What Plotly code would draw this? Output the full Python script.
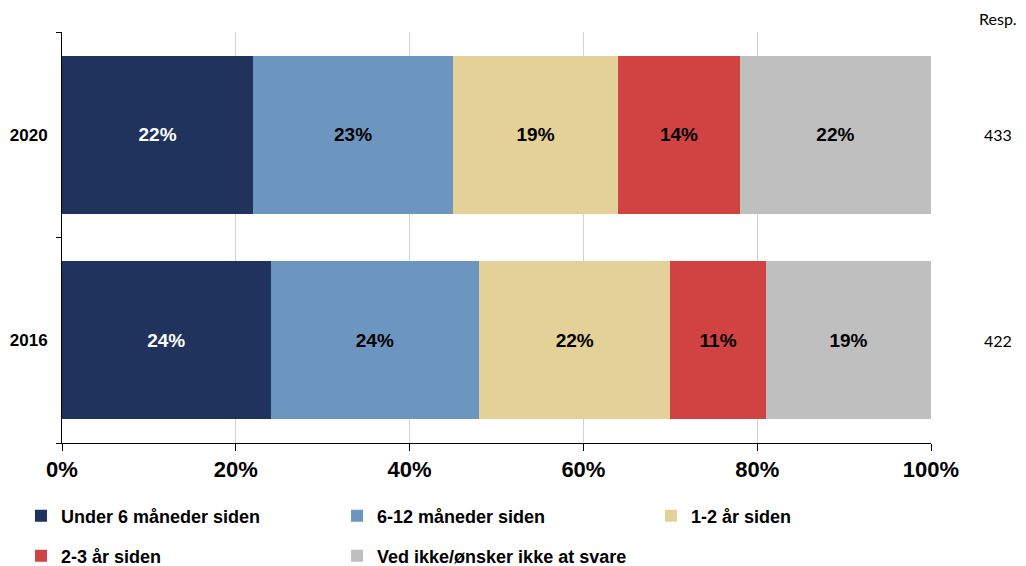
import plotly.graph_objects as go

# ------------------------------------------------------------
# Data
# ------------------------------------------------------------
years = ["2016", "2020"]
respondents = [422, 433]

series_names = [
    "Under 6 måneder siden",
    "6-12 måneder siden",
    "1-2 år siden",
    "2-3 år siden",
    "Ved ikke/ønsker ikke at svare",
]
under_6_mnd = [24, 22]
mnd_6_12 = [24, 23]
aar_1_2 = [22, 19]
aar_2_3 = [11, 14]
ved_ikke = [19, 22]

x_ticks = [0, 20, 40, 60, 80, 100]
x_tick_labels = ["0%", "20%", "40%", "60%", "80%", "100%"]

series_values = [under_6_mnd, mnd_6_12, aar_1_2, aar_2_3, ved_ikke]
colors = ["#20335C", "#6C95C0", "#E3D197", "#D14343", "#BFBFBF"]
text_colors = ["white", "black", "black", "black", "black"]

FONT = "Liberation Sans, Arial, sans-serif"

# one small legend per entry so the 3 + 2 grid sits where it should
legend_ids = ["legend", "legend2", "legend3", "legend4", "legend5"]
legend_x = [-0.0472, 0.3165, 0.6778, -0.0472, 0.3165]
legend_y = [-0.1776, -0.1776, -0.1776, -0.2750, -0.2750]

fig = go.Figure()
for name, vals, col, tcol, lg in zip(series_names, series_values, colors, text_colors, legend_ids):
    fig.add_trace(go.Bar(
        y=years,
        x=vals,
        name=name,
        orientation="h",
        marker=dict(color=col, line=dict(width=0)),
        texttemplate="<b>%{x}%</b>",
        textposition="inside",
        insidetextanchor="middle",
        textfont=dict(family=FONT, size=19, color=tcol),
        legend=lg,
        showlegend=True,
        hoverinfo="skip",
    ))

# Respondent counts on the right (y = category index)
for i, n in enumerate(respondents):
    fig.add_annotation(
        x=1.077, xref="paper", y=i, yref="y",
        xanchor="center", yanchor="middle",
        text=str(n), showarrow=False,
        font=dict(family="Lato, sans-serif", size=16, color="black"),
    )
fig.add_annotation(
    x=1.077, xref="paper", y=1.034, yref="paper",
    xanchor="center", yanchor="middle",
    text="Resp.", showarrow=False,
    font=dict(family="Lato, sans-serif", size=16, color="black"),
)

legends = {}
for lg, lx, ly in zip(legend_ids, legend_x, legend_y):
    legends[lg] = dict(
        x=lx, y=ly,
        orientation="h",
        xanchor="left",
        yanchor="middle",
        font=dict(family=FONT, size=18, color="black", weight="bold"),
        bgcolor="rgba(0,0,0,0)",
        itemclick=False,
    )

# page body has an 8px margin, so the plot is offset by 8px
fig.update_layout(
    barmode="stack",
    bargap=0.23,
    width=1018,
    height=558,
    autosize=False,
    showlegend=True,
    margin=dict(l=54, r=95, t=24, b=123, autoexpand=False),
    plot_bgcolor="white",
    paper_bgcolor="white",
    font=dict(family=FONT, color="black"),
    xaxis=dict(
        type="linear",
        range=[0, 100],
        tickmode="array",
        tickvals=x_ticks,
        ticktext=x_tick_labels,
        showgrid=True,
        gridcolor="#D4D4D4",
        gridwidth=1,
        zeroline=False,
        showline=True,
        linecolor="black",
        linewidth=1,
        ticks="outside",
        ticklen=7,
        tickcolor="black",
        tickfont=dict(family=FONT, size=22, color="black", weight="bold"),
        automargin=False,
        fixedrange=True,
    ),
    yaxis=dict(
        type="category",
        categoryorder="array",
        categoryarray=years,
        range=[-0.5, 1.5],
        showline=True,
        linecolor="black",
        linewidth=1,
        ticks="outside",
        tickson="boundaries",
        ticklen=5,
        tickcolor="black",
        showgrid=False,
        tickfont=dict(family=FONT, size=17, color="black", weight="bold"),
        ticklabelstandoff=10,
        automargin=False,
        fixedrange=True,
    ),
    **legends,
)

fig.write_html("out.html")
